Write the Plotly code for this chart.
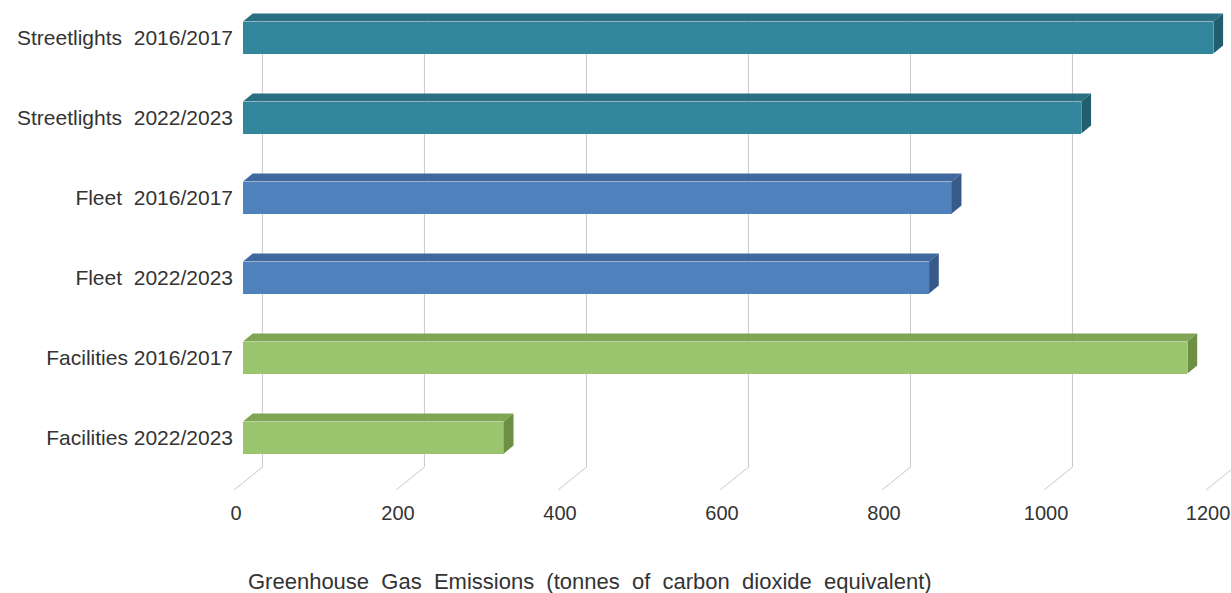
import plotly.graph_objects as go

categories = ["Streetlights  2016/2017", "Streetlights  2022/2023", "Fleet  2016/2017",
              "Fleet  2022/2023", "Facilities 2016/2017", "Facilities 2022/2023"]
values = [1198, 1035, 875, 847, 1166, 322]
x_ticks = [0, 200, 400, 600, 800, 1000, 1200]
x_title = "Greenhouse  Gas  Emissions  (tonnes  of  carbon  dioxide  equivalent)"

front_cols = ["#32869B", "#32869B", "#4F81BD", "#4F81BD", "#9BC46E", "#9BC46E"]
top_cols = ["#2A6F82", "#2A6F82", "#3F68A0", "#3F68A0", "#7FA653", "#7FA653"]
side_cols = ["#235E6E", "#235E6E", "#375A8A", "#375A8A", "#6C8F44", "#6C8F44"]

H = 0.2      # half bar thickness (y units)
DX = 12      # depth offset (x units)
DY = 0.1     # depth offset (y units)

fig = go.Figure()
ys = list(range(len(categories)))

# front faces
fig.add_trace(go.Bar(x=values, y=ys, orientation="h", base=0, width=2 * H,
                     marker=dict(color=front_cols, line=dict(width=0)),
                     hoverinfo="skip", showlegend=False))

# top and side faces
for i, v in enumerate(values):
    fig.add_trace(go.Scatter(
        x=[0, v, v + DX, DX, 0], y=[i - H, i - H, i - H - DY, i - H - DY, i - H],
        fill="toself", fillcolor=top_cols[i], mode="lines", line=dict(width=0),
        hoverinfo="skip", showlegend=False))
    fig.add_trace(go.Scatter(
        x=[v, v + DX, v + DX, v, v], y=[i - H, i - H - DY, i + H - DY, i + H, i - H],
        fill="toself", fillcolor=side_cols[i], mode="lines", line=dict(width=0),
        hoverinfo="skip", showlegend=False))

# 3D-style gridlines: back wall vertical + floor diagonal
BACK = 24
FRONT = -11
Y_TOP = -0.3
Y_FLOOR = 5.37
Y_FRONT = 5.656
shapes = []
for t in x_ticks:
    shapes.append(dict(type="path", xref="x", yref="y", layer="below",
                       path=f"M {t + BACK},{Y_TOP} L {t + BACK},{Y_FLOOR} L {t + FRONT},{Y_FRONT}",
                       line=dict(color="#C8C8C8", width=1)))

font = dict(family="Liberation Sans, Arial, sans-serif", size=21, color="#333333")
tick_font = dict(family="Liberation Sans, Arial, sans-serif", size=20, color="#333333")
title_font = dict(family="Liberation Sans, Arial, sans-serif", size=22, color="#333333")

fig.update_layout(
    width=1231, height=593,
    margin=dict(l=234, r=0, t=8, b=97),
    paper_bgcolor="white", plot_bgcolor="white",
    font=font,
    shapes=shapes,
    xaxis=dict(range=[-11.1, 1219.75], tickvals=[t - 8.6 for t in x_ticks],
               ticktext=[str(t) for t in x_ticks], showgrid=False, zeroline=False,
               showline=False, ticks="", tickfont=tick_font, ticklabelstandoff=3,
               ticklabeloverflow="allow"),
    yaxis=dict(range=[5.731, -0.369], tickvals=ys, ticktext=categories,
               showgrid=False, zeroline=False, showline=False, ticks="", tickfont=font),
    annotations=[dict(text=x_title, xref="x", yref="paper", x=428, y=-0.176,
                      showarrow=False, xanchor="center", yanchor="middle", font=title_font)],
    bargap=0,
)

fig.write_html("out.html", config={"displayModeBar": False},
               post_script="document.body.style.margin='0px';document.body.style.overflow='hidden';")
